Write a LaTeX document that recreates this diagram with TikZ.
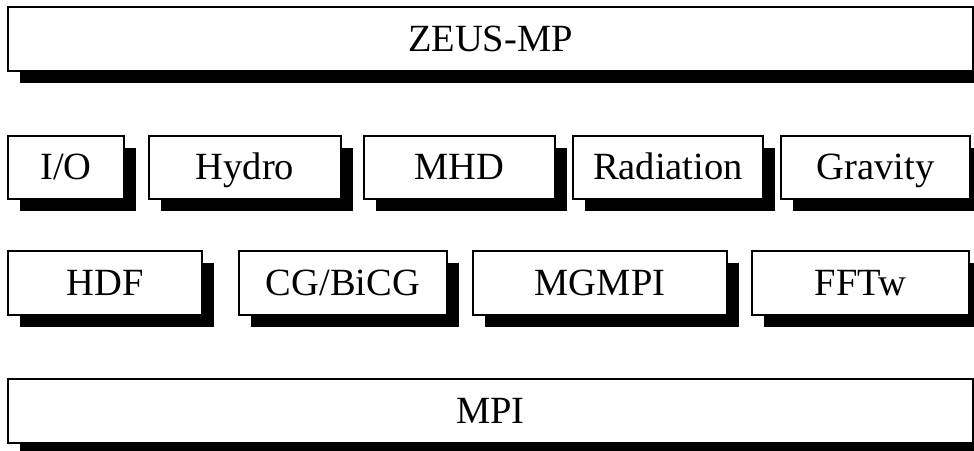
\documentclass[tikz,border=0pt]{standalone}
\usepackage{fontspec}
\setmainfont{Liberation Serif}
\usetikzlibrary{shadows}

\begin{document}
\begin{tikzpicture}[x=1pt, y=1pt,
    box/.style = {draw, line width=2pt, fill=white, inner sep=0pt, minimum height=64pt,
        text height=25.5pt, text depth=0pt,
        font=\fontsize{38.5}{40}\selectfont,
        drop shadow={shadow xshift=12pt, shadow yshift=-12pt, fill=black, opacity=1}}]
    \useasboundingbox (0,0) rectangle (974,-450);
    % top layer
    \node[box, minimum width=965pt](zeus) at (490.5,-39){ZEUS-MP};
    % physics modules
    \node[box, minimum width=116pt, minimum height=63pt](io) at (66,-167){I/O};
    \node[box, minimum width=192pt, minimum height=63pt](hydro) at (245,-167){Hydro};
    \node[box, minimum width=191pt, minimum height=63pt](mhd) at (459.5,-167){MHD};
    \node[box, minimum width=190pt, minimum height=63pt](rad) at (668,-167){Radiation};
    \node[box, minimum width=189pt, minimum height=63pt](grav) at (875.5,-167){Gravity};
    % libraries
    \node[box, minimum width=194pt](hdf) at (105,-283){HDF};
    \node[box, minimum width=208pt](cg) at (343,-283){CG/BiCG};
    \node[box, minimum width=254pt](mgmpi) at (600,-283){MGMPI};
    \node[box, minimum width=217pt](fftw) at (860.5,-283){FFTw};
    % bottom layer
    \node[box, minimum width=965pt](mpi) at (490.5,-411){MPI};
\end{tikzpicture}
\end{document}
